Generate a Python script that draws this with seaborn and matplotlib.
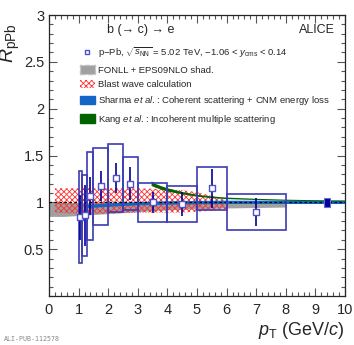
import numpy as np
import matplotlib
matplotlib.use("Agg")
import matplotlib.pyplot as plt
from matplotlib.patches import Patch
from matplotlib.lines import Line2D
from matplotlib.ticker import MultipleLocator
import seaborn as sns

# ==============================
# DATA
# ==============================
bin_lo = [1.0, 1.1, 1.3, 1.5, 2.0, 2.5, 3.0, 4.0, 5.0, 6.0]
bin_hi = [1.1, 1.3, 1.5, 2.0, 2.5, 3.0, 4.0, 5.0, 6.0, 8.0]
pt = [1.05, 1.2, 1.4, 1.75, 2.25, 2.75, 3.5, 4.5, 5.5, 7.0]
rppb = [0.84, 0.86, 1.07, 1.17, 1.26, 1.20, 1.00, 0.98, 1.15, 0.90]
stat = [0.24, 0.33, 0.20, 0.16, 0.16, 0.18, 0.11, 0.13, 0.21, 0.15]
syst = [0.49, 0.43, 0.47, 0.41, 0.36, 0.28, 0.21, 0.19, 0.23, 0.19]

norm_pt = [9.4]
norm_unc = [0.05]

fonll_pt = [0, 0.5, 1, 1.5, 2, 3, 4, 5, 6, 7, 8]
fonll_lo = [0.85, 0.85, 0.86, 0.87, 0.88, 0.90, 0.92, 0.93, 0.94, 0.945, 0.95]
fonll_hi = [1.0, 1.0, 1.0, 1.0, 1.0, 1.0, 1.005, 1.005, 1.005, 1.01, 1.01]

blast_pt = [0.2, 1, 2, 3, 4, 4.5, 5, 5.5, 6]
blast_lo = [0.89, 0.88, 0.88, 0.89, 0.89, 0.89, 0.90, 0.91, 0.93]
blast_hi = [1.15, 1.15, 1.15, 1.15, 1.14, 1.13, 1.11, 1.07, 1.02]

sharma_pt = [1.3, 1.5, 2, 2.5, 3, 4, 5, 6, 7, 8, 9, 10]
sharma_r = [0.955, 0.96, 0.97, 0.978, 0.985, 0.993, 0.997, 1.0, 1.0, 1.0, 1.0, 1.0]

kang_pt = [3.45, 3.6, 3.8, 4, 4.5, 5, 5.5, 6, 7, 8, 9, 10]
kang_lo = [1.18, 1.16, 1.14, 1.12, 1.09, 1.065, 1.05, 1.04, 1.03, 1.022, 1.017, 1.014]
kang_hi = [1.23, 1.20, 1.175, 1.155, 1.115, 1.085, 1.068, 1.056, 1.043, 1.034, 1.028, 1.024]

# ==============================
# STYLE
# ==============================
sns.set_style("ticks")
plt.rcParams["font.family"] = ["Liberation Sans", "DejaVu Sans"]
plt.rcParams["mathtext.fontset"] = "custom"
plt.rcParams["mathtext.rm"] = "Liberation Sans"
plt.rcParams["mathtext.it"] = "Liberation Sans:italic"
plt.rcParams["mathtext.bf"] = "Liberation Sans:bold"
plt.rcParams["hatch.linewidth"] = 0.6

box_col = "#3c3cb4"
stat_col = "#000099"
sharma_col = "#1565c8"
kang_col = "#006400"

fig = plt.figure(figsize=(3.54, 3.45), dpi=100)
ax = fig.add_axes([0.1384, 0.142, 0.8362, 0.8145])

# models
ax.fill_between(fonll_pt, fonll_lo, fonll_hi, color="#a0a0a0", lw=0, zorder=1)
ax.fill_between(blast_pt, blast_lo, blast_hi, facecolor="none", edgecolor="#ff3030",
                hatch="xxxxxx", lw=0, zorder=2)
sns.lineplot(x=sharma_pt, y=sharma_r, color=sharma_col, lw=2.4, ax=ax, zorder=3)
ax.fill_between(kang_pt, kang_lo, kang_hi, color=kang_col, lw=0, zorder=3)
ax.axhline(1.0, color="black", ls=(0, (2, 2)), lw=0.9, zorder=4)

# systematic boxes
widths = np.array(bin_hi) - np.array(bin_lo)
ax.bar(bin_lo, 2 * np.array(syst), bottom=np.array(rppb) - np.array(syst),
       width=widths, align="edge", fill=False, edgecolor=box_col, lw=1.2, zorder=5)

# normalisation uncertainty
ax.bar(norm_pt, [2 * u for u in norm_unc], bottom=[1 - u for u in norm_unc],
       width=0.2, color=stat_col, edgecolor="#6a6ad0", lw=0.8, zorder=6)

# stat errors and points
ax.errorbar(pt, rppb, yerr=stat, fmt="none", ecolor=stat_col, elinewidth=1.2,
            capsize=0, zorder=6)
sns.scatterplot(x=pt, y=rppb, marker="s", s=14, facecolor="white",
                edgecolor="#5050c8", linewidth=1.0, ax=ax, zorder=7)

# axes
ax.set_xlim(0, 10)
ax.set_ylim(0, 3)
ax.xaxis.set_major_locator(MultipleLocator(1))
ax.xaxis.set_minor_locator(MultipleLocator(0.2))
ax.yaxis.set_major_locator(MultipleLocator(0.5))
ax.yaxis.set_minor_locator(MultipleLocator(0.1))
ax.set_yticks([0.5, 1, 1.5, 2, 2.5, 3])
ax.set_yticklabels(["0.5", "1", "1.5", "2", "2.5", "3"])
ax.tick_params(which="both", direction="in", top=True, right=True, labelsize=10.5,
               width=0.8, color="#555555")
ax.tick_params(which="major", length=6)
ax.tick_params(which="minor", length=3)
ax.tick_params(axis="x", pad=5)
for s in ax.spines.values():
    s.set_linewidth(0.9)

ax.set_xlabel(r"$p_{\rm T}$ (GeV/$c$)", fontsize=13, loc="right")
ax.xaxis.set_label_coords(1.0, -0.085)
ax.set_ylabel(r"$R_{\rm pPb}$", fontsize=14, loc="top")
ax.yaxis.set_label_coords(-0.09, 0.97)

ax.text(0.31, 0.945, "b (→ c) → e", transform=ax.transAxes, fontsize=9,
        ha="center", va="center")
ax.text(0.965, 0.945, "ALICE", transform=ax.transAxes, fontsize=9,
        ha="right", va="center")

handles = [
    Line2D([], [], marker="s", ls="none", mfc="white", mec="#5050c8", ms=3.5, mew=1.0),
    Patch(facecolor="#a0a0a0", edgecolor="#c0c0c0", ls="--"),
    Patch(facecolor="white", edgecolor="#ff3030", hatch="xxxxxx", lw=0),
    Patch(facecolor=sharma_col, edgecolor=sharma_col),
    Patch(facecolor=kang_col, edgecolor=kang_col),
]
labels = [
    r"p$-$Pb, $\sqrt{s_{\rm NN}}$ = 5.02 TeV, $-$1.06 < $y_{\rm cms}$ < 0.14",
    "FONLL + EPS09NLO shad.",
    "Blast wave calculation",
    r"Sharma $et$ $al.$: Coherent scattering + CNM energy loss",
    r"Kang $et$ $al.$: Incoherent multiple scattering",
]
leg = ax.legend(handles, labels, loc="upper left", bbox_to_anchor=(0.105, 0.89),
                frameon=False, fontsize=6.8, handlelength=1.55, handleheight=1.0,
                handletextpad=0.35, labelspacing=0.55, borderpad=0, borderaxespad=0)

fig.text(0.012, 0.012, "ALI-PUB-112578", fontsize=4.8, color="#888888",
         family="DejaVu Sans Mono")

fig.savefig("out.png", dpi=100)
